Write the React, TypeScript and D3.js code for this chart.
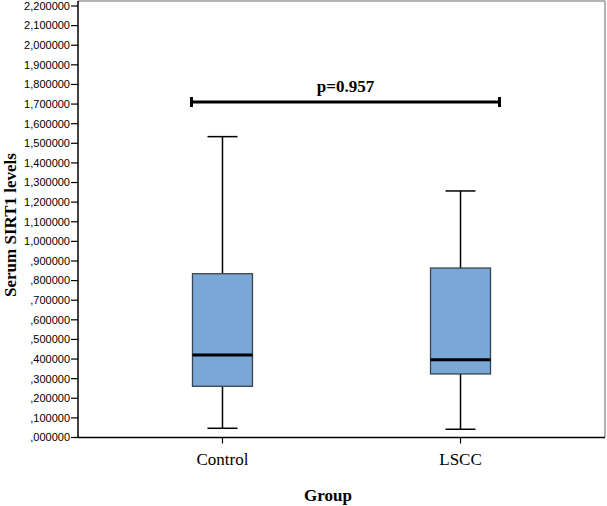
import React from "react";
import * as d3 from "d3";

const groups = ["Control", "LSCC"];
const whiskerLow = [0.047, 0.042];
const q1 = [0.261, 0.324];
const medians = [0.421, 0.397];
const q3 = [0.835, 0.864];
const whiskerHigh = [1.534, 1.257];
const yTicks = d3.range(0, 23).map((i) => i / 10);
const pLabel = "p=0.957";

const W = 607;
const H = 506;
const left = 78;
const right = 605;
const top = 1;
const bottom = 437.5;

const fmt = (v: number) => {
  const s = d3.format(".6f")(v).replace(".", ",");
  return s.startsWith("0,") ? s.slice(1) : s;
};

export default function App() {
  const y = d3.scaleLinear().domain([0, 2.2]).range([bottom, 6]);
  const x = d3.scalePoint<string>().domain(groups).range([left, right]).padding(0.607);
  const boxW = 60;
  const capW = 30;
  const serif = "'Times New Roman', 'Liberation Serif', serif";
  const sans = "Arial, 'Liberation Sans', sans-serif";

  const pY = 102;
  const pX1 = (x(groups[0]) as number) - 31;
  const pX2 = (x(groups[1]) as number) + 39;

  return (
    <svg width={W} height={H} style={{ position: "absolute", left: 0, top: 0, background: "#fff" }}>
      {/* frame */}
      <line x1={left} x2={right} y1={top} y2={top} stroke="#9a9a9a" strokeWidth={1.5} />
      <line x1={right} x2={right} y1={top} y2={bottom} stroke="#9a9a9a" strokeWidth={1.5} />
      <line x1={left} x2={left} y1={top} y2={bottom} stroke="#000" strokeWidth={1.5} />
      <line x1={left} x2={right} y1={bottom} y2={bottom} stroke="#000" strokeWidth={1.5} />

      {/* y ticks */}
      {yTicks.map((t) => (
        <g key={t} transform={`translate(0,${y(t)})`}>
          <line x1={left - 7} x2={left} stroke="#000" strokeWidth={1.2} />
          <text x={left - 8} dy="0.35em" textAnchor="end" fontFamily={sans} fontSize={11} fill="#000">
            {fmt(t)}
          </text>
        </g>
      ))}

      {/* x ticks and labels */}
      {groups.map((g) => (
        <g key={g} transform={`translate(${x(g)},0)`}>
          <line y1={bottom} y2={bottom + 6} stroke="#000" strokeWidth={1.2} />
          <text y={465} textAnchor="middle" fontFamily={serif} fontSize={17} fill="#000">
            {g}
          </text>
        </g>
      ))}

      {/* boxes */}
      {groups.map((g, i) => {
        const cx = x(g) as number;
        return (
          <g key={g}>
            <line x1={cx} x2={cx} y1={y(whiskerHigh[i])} y2={y(q3[i])} stroke="#000" strokeWidth={1.5} />
            <line x1={cx} x2={cx} y1={y(q1[i])} y2={y(whiskerLow[i])} stroke="#000" strokeWidth={1.5} />
            <line x1={cx - capW / 2} x2={cx + capW / 2} y1={y(whiskerHigh[i])} y2={y(whiskerHigh[i])} stroke="#000" strokeWidth={1.5} />
            <line x1={cx - capW / 2} x2={cx + capW / 2} y1={y(whiskerLow[i])} y2={y(whiskerLow[i])} stroke="#000" strokeWidth={1.5} />
            <rect
              x={cx - boxW / 2}
              y={y(q3[i])}
              width={boxW}
              height={y(q1[i]) - y(q3[i])}
              fill="#7aa8d6"
              stroke="#3a4450"
              strokeWidth={1.3}
            />
            <line x1={cx - boxW / 2} x2={cx + boxW / 2} y1={y(medians[i])} y2={y(medians[i])} stroke="#000" strokeWidth={3} />
          </g>
        );
      })}

      {/* significance bar */}
      <line x1={pX1} x2={pX2} y1={pY} y2={pY} stroke="#000" strokeWidth={3} />
      <line x1={pX1} x2={pX1} y1={pY - 5} y2={pY + 5} stroke="#000" strokeWidth={3} />
      <line x1={pX2} x2={pX2} y1={pY - 5} y2={pY + 5} stroke="#000" strokeWidth={3} />
      <text x={(pX1 + pX2) / 2} y={92} textAnchor="middle" fontFamily={serif} fontWeight="bold" fontSize={17} fill="#000">
        {pLabel}
      </text>

      {/* axis titles */}
      <text transform="translate(16,225) rotate(-90)" textAnchor="middle" fontFamily={serif} fontWeight="bold" fontSize={17} fill="#000">
        Serum SIRT1 levels
      </text>
      <text x={328} y={501} textAnchor="middle" fontFamily={serif} fontWeight="bold" fontSize={17} fill="#000">
        Group
      </text>
    </svg>
  );
}
